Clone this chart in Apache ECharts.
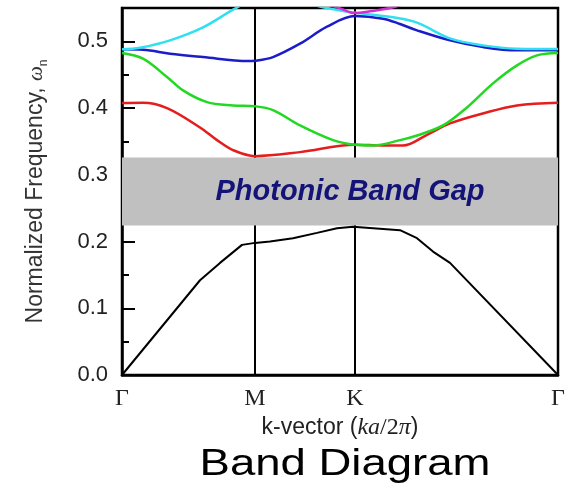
<!DOCTYPE html>
<html><head><meta charset="utf-8">
<script src="https://cdn.jsdelivr.net/npm/echarts@6/dist/echarts.min.js"></script>
<style>html,body{margin:0;padding:0;background:#fff}#c{width:575px;height:495px}</style>
</head><body><div id="c"></div><script>
// k-path positions (Γ, M, K, Γ) and labels
const kTicks = [0, 133, 233, 436];
const kLabels = ['Γ', 'M', 'K', 'Γ'];
const gapRange = [0.224, 0.326];
const gapLabel = 'Photonic Band Gap';
const titleText = 'Band Diagram';

// bands: [k, normalized frequency]
const band1 = [[0,0],[78,0.142],[98,0.168],[120,0.195],[133,0.198],[148,0.200],[171,0.205],[195,0.213],[215,0.220],[231,0.222],[278,0.217],[295,0.205],[311,0.185],[328,0.168],[436,0]];
const band2 = [[0,0.4076],[21,0.408],[45,0.400],[78,0.371],[95,0.352],[111,0.337],[133,0.328],[178,0.334],[233,0.345],[261,0.344],[281,0.344],[305,0.360],[328,0.377],[361,0.392],[395,0.404],[436,0.408]];
const band3 = [[0,0.4825],[21,0.474],[45,0.4466],[61,0.4266],[85,0.409],[111,0.404],[133,0.4027],[151,0.397],[178,0.374],[211,0.352],[233,0.345],[251,0.344],[278,0.352],[295,0.359],[321,0.374],[345,0.401],[371,0.437],[395,0.464],[415,0.479],[436,0.4825]];
const band4 = [[0,0.488],[21,0.4875],[48,0.4815],[81,0.4765],[126,0.4705],[133,0.471],[151,0.4765],[178,0.4965],[205,0.522],[233,0.538],[261,0.534],[278,0.526],[295,0.5165],[328,0.5015],[361,0.4915],[395,0.4865],[436,0.4865]];
const band5 = [[0,0.488],[18,0.4905],[48,0.5015],[81,0.521],[113,0.549],[133,0.562],[170,0.562],[201,0.551],[225,0.5445],[233,0.543],[245,0.541],[271,0.536],[295,0.528],[328,0.5045],[361,0.494],[395,0.489],[436,0.4885]];
const band6 = [[200,0.558],[218,0.5495],[233,0.5424],[250,0.5455],[268,0.550],[282,0.556]];

const bandColors = ['#000000', '#e41e1e', '#22d822', '#1c1cc8', '#30e0f0', '#d030d0'];
const bands = [band1, band2, band3, band4, band5, band6];

const chart = echarts.init(document.getElementById('c'));
const sans = 'Liberation Sans, Arial, sans-serif';
const serif = 'Liberation Serif, Times New Roman, serif';

const series = bands.map((b, i) => ({
  type: 'line', data: b, symbol: 'none', smooth: i === 0 ? false : 0.35,
  lineStyle: { color: bandColors[i], width: i === 0 ? 2 : 2.5 }, z: 4, clip: true, silent: true
}));
series.push({
  type: 'line', data: [], z: 2, silent: true,
  markLine: { z: 1, symbol: 'none', silent: true, label: { show: false },
    lineStyle: { color: '#000', width: 2, type: 'solid' },
    data: kTicks.slice(1, 3).map(v => ({ xAxis: v })) }
});
series.push({
  type: 'line', data: [], z: 3, silent: true,
  markArea: { z: 3, silent: true, itemStyle: { color: '#c0c0c0' },
    label: { show: true, position: 'inside', offset: [10, 0], color: '#141478', fontFamily: sans,
      fontSize: 29, fontWeight: 'bold', fontStyle: 'italic' },
    data: [[{ yAxis: gapRange[0], name: gapLabel }, { yAxis: gapRange[1] }]] }
});

chart.setOption({
  animation: false,
  backgroundColor: '#fff',
  grid: { left: 122, top: 8, right: 17, bottom: 120, show: true, borderColor: '#000', borderWidth: 2.5, backgroundColor: 'transparent', containLabel: false },
  xAxis: {
    type: 'value', min: kTicks[0], max: kTicks[3],
    axisLine: { show: true, lineStyle: { color: '#000', width: 2.5 } },
    axisTick: { show: false }, splitLine: { show: false },
    axisLabel: { customValues: kTicks, formatter: v => kLabels[kTicks.indexOf(v)], fontFamily: serif, fontSize: 24, color: '#222', margin: 12 },
    name: 'k-vector ({i|ka}{s|/2}{i|π})', nameLocation: 'middle', nameGap: 40,
    nameTextStyle: { fontFamily: sans, fontSize: 23, color: '#222',
      rich: { i: { fontFamily: serif, fontStyle: 'italic', fontSize: 24, color: '#222' },
              s: { fontFamily: serif, fontSize: 24, color: '#222' } } }
  },
  yAxis: [{
    type: 'value', min: 0, max: 0.55, interval: 0.1,
    axisLine: { show: true, lineStyle: { color: '#000', width: 2.5 } },
    axisTick: { show: true, inside: true, length: 13, lineStyle: { color: '#000', width: 2 } },
    splitLine: { show: false },
    axisLabel: { showMaxLabel: false, formatter: v => v.toFixed(1), fontFamily: sans, fontSize: 22, color: '#222', margin: 14 },
    name: 'Normalized Frequency, {w|ω}{n|n}', nameLocation: 'middle', nameGap: 86, nameRotate: 90,
    nameTextStyle: { fontFamily: sans, fontSize: 23, color: '#333', lineHeight: 28, verticalAlign: 'middle',
      rich: { w: { fontFamily: serif, fontStyle: 'italic', fontSize: 21, color: '#333', lineHeight: 28 },
              n: { fontFamily: sans, fontSize: 12, color: '#333', verticalAlign: 'bottom', lineHeight: 20 } } }
  }, {
    type: 'value', min: 0, max: 0.55, interval: 0.05, position: 'left',
    axisLine: { show: false }, axisLabel: { show: false }, splitLine: { show: false },
    axisTick: { show: true, inside: true, length: 7, lineStyle: { color: '#000', width: 2 } }
  }],
  graphic: [{
    type: 'text', x: 345, y: 465, scaleX: 1.23, scaleY: 1, silent: true,
    style: { text: titleText, x: 0, y: 0, font: '37px ' + sans, fill: '#000', textAlign: 'center', textVerticalAlign: 'middle' }
  }],
  series: series
});
</script></body></html>
